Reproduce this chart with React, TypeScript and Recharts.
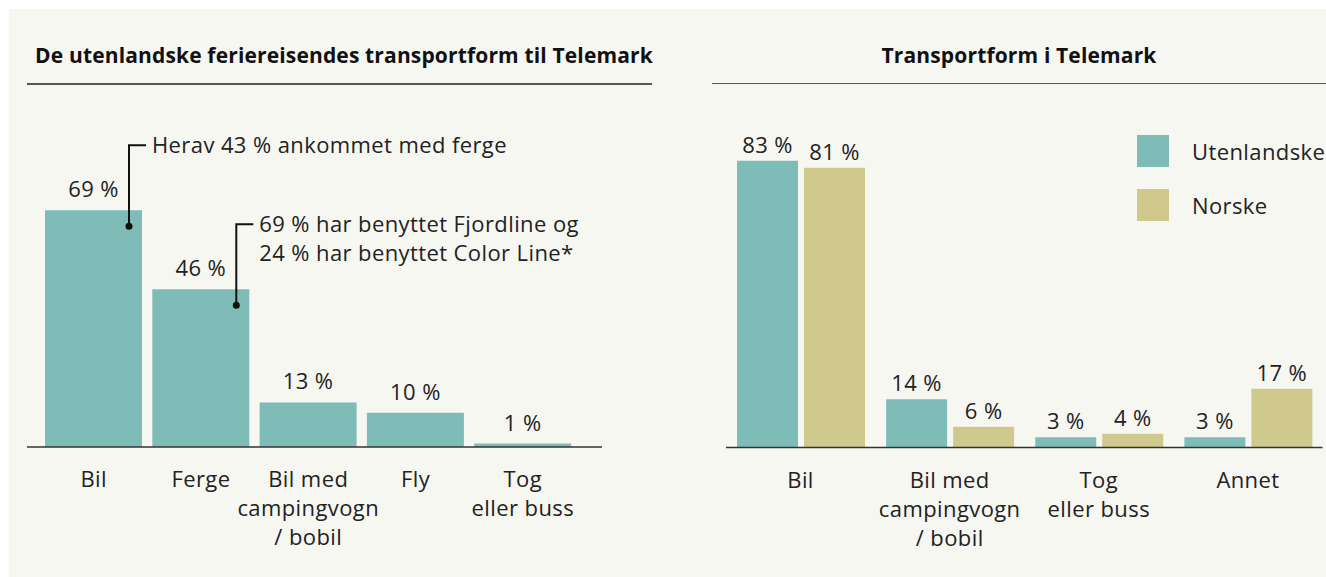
import { BarChart, Bar, XAxis, YAxis, LabelList } from "recharts"

const leftCategories = ['Bil', 'Ferge', 'Bil med\ncampingvogn\n/ bobil', 'Fly', 'Tog\neller buss']
const leftValues = [69, 46, 13, 10, 1]
const leftNotes = [
  ['Herav 43 % ankommet med ferge'],
  ['69 % har benyttet Fjordline og', '24 % har benyttet Color Line*'],
  [],
  [],
  [],
]

const rightCategories = ['Bil', 'Bil med\ncampingvogn\n/ bobil', 'Tog\neller buss', 'Annet']
const utenlandske = [83, 14, 3, 3]
const norske = [81, 6, 4, 17]
const seriesNames = ['Utenlandske', 'Norske']

const TEAL = '#7fbcb8'
const OLIVE = '#cfc98e'
const BG = '#f7f7f2'
const INK = '#222'
const FONT = '"Open Sans", sans-serif'
const LS = 0.4

const leftData = leftCategories.map((name, i) => ({ name, value: leftValues[i] }))
const rightData = rightCategories.map((name, i) => ({ name, Utenlandske: utenlandske[i], Norske: norske[i] }))

const MultiTick = (props: any) => {
  const { x, y, payload } = props
  const lines = String(payload.value).split('\n')
  return (
    <text x={x} y={y} textAnchor="middle" fill={INK} fontSize={22} fontFamily={FONT} letterSpacing={LS}>
      {lines.map((l, i) => (
        <tspan key={i} x={x} y={y + 40 + i * 29}>{l}</tspan>
      ))}
    </text>
  )
}

const pct = (gap: number) => (props: any) => {
  const { x, y, width, value } = props
  return (
    <text x={x + width / 2} y={y - gap} textAnchor="middle" fill={INK} fontSize={22} fontFamily={FONT} letterSpacing={LS}>
      {value} %
    </text>
  )
}

// callout line + dot for the notes on the first two bars
const Note = (props: any) => {
  const { x, y, width, index } = props
  const note = leftNotes[index]
  if (!note || note.length === 0) return null
  const dx = x + width - 13
  const top = y - 65
  return (
    <g>
      <circle cx={dx} cy={y + 16} r={3.5} fill="#111" />
      <polyline points={`${dx},${y + 16} ${dx},${top} ${dx + 17},${top}`} fill="none" stroke="#111" strokeWidth={2} />
      <text fill={INK} fontSize={22} fontFamily={FONT} letterSpacing={LS}>
        {note.map((l, i) => (
          <tspan key={i} x={dx + 23} y={top + 8 + i * 29}>{l}</tspan>
        ))}
      </text>
    </g>
  )
}

const titleStyle: any = {
  position: 'absolute',
  top: 34,
  fontFamily: FONT,
  fontWeight: 700,
  fontSize: 21,
  lineHeight: '24px',
  letterSpacing: 0.15,
  color: '#111',
  textAlign: 'center',
  whiteSpace: 'nowrap',
}

export default function App() {
  return (
    <div style={{ position: 'absolute', left: 9, top: 9, width: 1317, height: 568, background: BG, overflow: 'hidden' }}>
      <div style={{ ...titleStyle, left: 18, width: 634 }}>De utenlandske feriereisendes transportform til Telemark</div>
      <div style={{ position: 'absolute', left: 18, top: 74, width: 625, height: 1.5, background: '#555' }} />
      <div style={{ ...titleStyle, left: 703, width: 614 }}>Transportform i Telemark</div>
      <div style={{ position: 'absolute', left: 703, top: 73.5, width: 614, height: 1.5, background: '#555' }} />

      <div style={{ position: 'absolute', left: 0, top: 0 }}>
        <BarChart width={650} height={568} data={leftData} margin={{ top: 95, right: 57, bottom: 30, left: 18 }}>
          <XAxis
            dataKey="name"
            interval={0}
            height={100}
            tickLine={false}
            tickSize={0}
            tickMargin={0}
            axisLine={{ stroke: '#333', strokeWidth: 1.5 }}
            padding={{ left: 13, right: 25.5 }}
            tick={<MultiTick />}
          />
          <YAxis hide domain={[0, 100]} />
          <Bar dataKey="value" fill={TEAL} barSize={97} isAnimationActive={false}>
            <LabelList dataKey="value" content={pct(13)} />
            <LabelList dataKey="value" content={<Note />} />
          </Bar>
        </BarChart>
      </div>

      <div style={{ position: 'absolute', left: 691, top: 0 }}>
        <BarChart width={626} height={568} data={rightData} margin={{ top: 93, right: 3.5, bottom: 29.5, left: 26 }} barGap={6}>
          <XAxis
            dataKey="name"
            interval={0}
            height={100}
            tickLine={false}
            tickSize={0}
            tickMargin={0}
            axisLine={{ stroke: '#333', strokeWidth: 1.5 }}
            tick={<MultiTick />}
          />
          <YAxis hide domain={[0, 100]} />
          <Bar dataKey="Utenlandske" fill={TEAL} barSize={61} isAnimationActive={false}>
            <LabelList dataKey="Utenlandske" content={pct(8)} />
          </Bar>
          <Bar dataKey="Norske" fill={OLIVE} barSize={61} isAnimationActive={false}>
            <LabelList dataKey="Norske" content={pct(8)} />
          </Bar>
        </BarChart>
      </div>

      <div style={{ position: 'absolute', left: 1128, top: 126, fontFamily: FONT, fontSize: 22, letterSpacing: LS, color: INK }}>
        {seriesNames.map((label, i) => (
          <div key={label} style={{ display: 'flex', alignItems: 'center', height: 32, marginBottom: 22 }}>
            <div style={{ width: 32, height: 32, background: i === 0 ? TEAL : OLIVE, marginRight: 23 }} />
            <span>{label}</span>
          </div>
        ))}
      </div>
    </div>
  )
}
